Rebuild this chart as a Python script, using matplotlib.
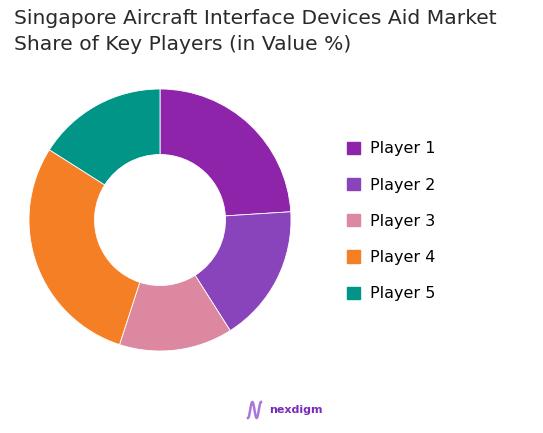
import numpy as np
import matplotlib
matplotlib.use('Agg')
import matplotlib.pyplot as plt

players = ['Player 1', 'Player 2', 'Player 3', 'Player 4', 'Player 5']
shares = [24, 17, 14, 29, 16]
colors = ['#8E24AA', '#8A44BB', '#DD88A1', '#F47F24', '#009587']
title = 'Singapore Aircraft Interface Devices Aid Market\nShare of Key Players (in Value %)'

plt.rcParams['font.family'] = ['DejaVu Sans']

fig = plt.figure(figsize=(5.43, 4.33), dpi=100)
fig.patch.set_facecolor('white')

# donut
ax = fig.add_axes([(160 - 131) / 543, 1 - (220 + 131) / 433, 262 / 543, 262 / 433])
ax.pie(shares, colors=colors, startangle=90, counterclock=False,
       wedgeprops=dict(width=0.5, edgecolor='white', linewidth=0.6))
ax.set_aspect('equal')
ax.set_xlim(-1, 1)
ax.set_ylim(-1, 1)

# legend
handles = [plt.Rectangle((0, 0), 1, 1, color=c) for c in colors]
fig.legend(handles, players, loc='upper left', bbox_to_anchor=(333 / 543, 1 - 127 / 433),
           frameon=False, fontsize=11.5, handlelength=0.8, handleheight=0.8,
           labelspacing=1.33, handletextpad=0.6)

fig.text(14 / 543, 1 - 9 / 433, title, ha='left', va='top', fontsize=14.6,
         color='#2a2a2a', linespacing=1.45)

# logo (N-shaped wave + word mark)
s = np.linspace(0, 1, 80)
lx = 248 + 13 * s
ly = 410 + 8 * np.cos(3 * np.pi * s)
fig.add_artist(plt.Line2D(lx / 543, 1 - ly / 433, color='#9C5FD8', linewidth=1.8, alpha=0.85))
fig.text(269 / 543, 1 - 410 / 433, 'nexdigm', ha='left', va='center', fontsize=8.0,
         color='#7A2BB8', fontweight='bold')

fig.savefig('out.png', dpi=100)
